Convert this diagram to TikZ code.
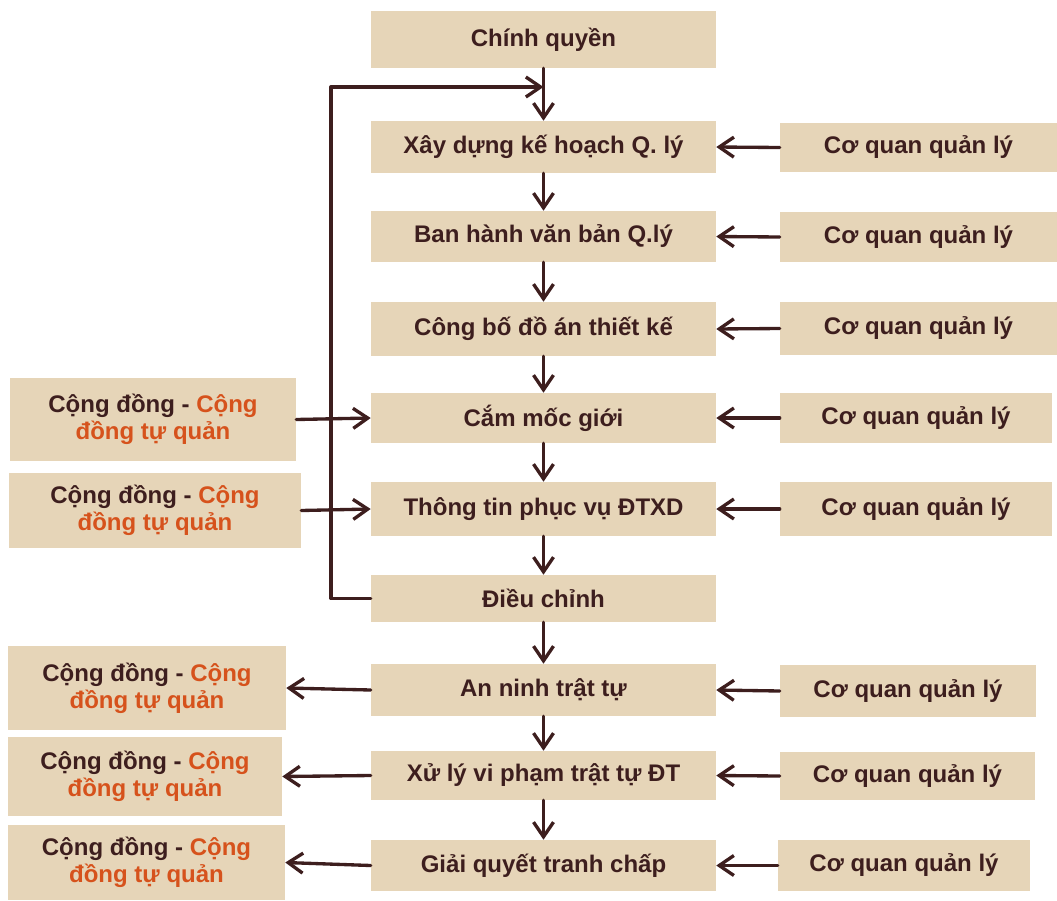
\documentclass[tikz,border=0pt]{standalone}
\usepackage{fontspec}
\setmainfont{Liberation Sans}
\usepackage{tikz}
\usetikzlibrary{arrows.meta, positioning, calc}

\definecolor{boxfill}{HTML}{E6D5B8}
\definecolor{darkbrown}{HTML}{3D1E1E}
\definecolor{rust}{HTML}{D6521C}

\begin{document}
\begin{tikzpicture}[
    x=0.75pt, y=-0.75pt,
    every node/.style={font=\fontsize{18}{20.5}\selectfont\bfseries, text=darkbrown}, % chữ đậm
    box/.style={fill=boxfill, inner sep=0pt, align=center}, % hộp nền be
    boxsize/.style 2 args={minimum width=#1*0.75pt, minimum height=#2*0.75pt}, % kích thước theo px
    mainbox/.style={box, boxsize={345}{#1}}, % cột giữa
    arr/.style={darkbrown, line width=2.5pt, line cap=round, line join=round,
        -{Straight Barb[length=11pt, width=15pt, line width=2.5pt]}} % mũi tên hở
]
    \useasboundingbox (0,0) rectangle (1057,900);

    % 1. Cột giữa: các bước quản lý
    \node[mainbox=57] (cq) at (543.5,39.5)  {Chính quyền};
    \node[mainbox=52] (xd) at (543.5,147)   {Xây dựng kế hoạch Q. lý};
    \node[mainbox=51] (bh) at (543.5,236.5) {Ban hành văn bản Q.lý};
    \node[mainbox=54] (cb) at (543.5,329)   {Công bố đồ án thiết kế};
    \node[mainbox=50] (cm) at (543.5,418)   {Cắm mốc giới};
    \node[mainbox=54] (tt) at (543.5,509)   {Thông tin phục vụ ĐTXD};
    \node[mainbox=47] (dc) at (543.5,598.5) {Điều chỉnh};
    \node[mainbox=52] (an) at (543.5,690)   {An ninh trật tự};
    \node[mainbox=49] (xl) at (543.5,775.5) {Xử lý vi phạm trật tự ĐT};
    \node[mainbox=51] (gq) at (543.5,865.5) {Giải quyết tranh chấp};

    % 2. Cột phải: cơ quan quản lý
    \foreach \n/\x/\y/\w/\h in {r1/918.5/147.5/277/49, r2/918.5/237/277/50,
        r3/918.5/328.5/277/53, r4/916/418/272/50, r5/916/509/272/54,
        r6/908/691/256/52, r7/907.5/776/255/48, r8/904/865.5/252/51} {
        \node[box, boxsize={\w}{\h}] (\n) at (\x,\y) {Cơ quan quản lý};
    }

    % 3. Cột trái: cộng đồng
    \foreach \n/\x/\y/\w/\h in {l1/153/419.5/286/83, l2/155/510.5/292/75,
        l3/147/688/278/84, l4/145/776.5/274/79, l5/146.5/862.5/277/75} {
        \node[box, boxsize={\w}{\h}] (\n) at (\x,\y)
            {Cộng đồng - \textcolor{rust}{Cộng}\\\textcolor{rust}{đồng tự quản}};
    }

    % 4. Mũi tên dọc giữa các bước
    \coordinate (meet) at (543.5,87);
    \draw[arr] (cq.south) -- (xd.north);
    \foreach \a/\b in {xd/bh, bh/cb, cb/cm, cm/tt, tt/dc, dc/an, an/xl, xl/gq} {
        \draw[arr] (\a.south) -- (\b.north);
    }

    % vòng phản hồi từ Điều chỉnh
    \coordinate (fbcorner) at (331,87);
    \draw[arr] (dc.west) -| (fbcorner) -- (meet);

    % 5. Mũi tên ngang
    \foreach \a/\b in {r1/xd, r2/bh, r3/cb, r4/cm, r5/tt, r6/an, r7/xl, r8/gq} {
        \draw[arr] (\a.west) -- (\b.east);
    }
    \draw[arr] (l1.east) -- (cm.west);
    \draw[arr] (l2.east) -- (tt.west);
    \draw[arr] (an.west) -- (l3.east);
    \draw[arr] (xl.west) -- (l4.east);
    \draw[arr] (gq.west) -- (l5.east);

\end{tikzpicture}
\end{document}
